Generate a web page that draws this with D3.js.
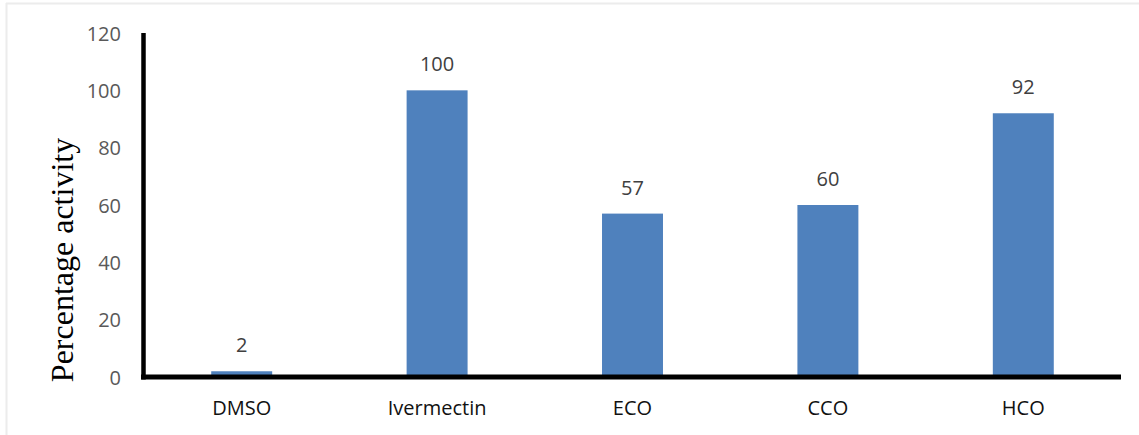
<!DOCTYPE html>
<html>
<head>
<meta charset="utf-8">
<script src="https://cdn.jsdelivr.net/npm/d3@7"></script>
<style>
  html, body { margin: 0; padding: 0; background: #fff; }
  svg { display: block; }
</style>
</head>
<body>
<svg id="chart" width="1139" height="435"></svg>
<script>
// Anthelmintic activity of each treatment (%)
const categories = ["DMSO", "Ivermectin", "ECO", "CCO", "HCO"];
const values = [2, 100, 57, 60, 92];
const yTicks = [0, 20, 40, 60, 80, 100, 120];
const yTitle = "Percentage activity";

const svg = d3.select("#chart");
const W = 1139, H = 435;

// faint frame on the top and left edges
svg.append("line").attr("x1", 6).attr("x2", W).attr("y1", 3.5).attr("y2", 3.5)
  .attr("stroke", "#ececec").attr("stroke-width", 2);
svg.append("line").attr("x1", 6.5).attr("x2", 6.5).attr("y1", 3).attr("y2", H)
  .attr("stroke", "#ececec").attr("stroke-width", 2);

const x = d3.scaleBand()
  .domain(categories)
  .range([144, 1121])
  .paddingInner(0.688)
  .paddingOuter(0.344);

const y = d3.scaleLinear()
  .domain([0, 120])
  .range([377, 33]);

// bars
svg.append("g")
  .selectAll("rect")
  .data(values)
  .join("rect")
  .attr("x", (d, i) => x(categories[i]))
  .attr("width", x.bandwidth())
  .attr("y", d => y(d))
  .attr("height", d => y(0) - y(d))
  .attr("fill", "#4F81BD");

// value labels above the bars
svg.append("g")
  .selectAll("text")
  .data(values)
  .join("text")
  .attr("x", (d, i) => x(categories[i]) + x.bandwidth() / 2)
  .attr("y", d => y(d) - 19)
  .attr("text-anchor", "middle")
  .attr("font-family", "'Open Sans', sans-serif")
  .attr("font-size", 20)
  .attr("fill", "#404040")
  .text(d => d);

// y axis: labels only, with a heavy spine
const yAxis = d3.axisLeft(y).tickValues(yTicks).tickSize(0).tickPadding(0);
const gy = svg.append("g").attr("transform", "translate(121,0)").call(yAxis);
gy.select(".domain").remove();
gy.selectAll("text")
  .attr("font-family", "'Open Sans', sans-serif")
  .attr("font-size", 20)
  .attr("fill", "#595959")
  .attr("dy", "0.35em");

svg.append("line")
  .attr("x1", 143.5).attr("x2", 143.5)
  .attr("y1", y(120)).attr("y2", y(0) + 2.5)
  .attr("stroke", "#000").attr("stroke-width", 4.5);

// x axis: category labels with a heavy baseline
const xAxis = d3.axisBottom(x).tickSize(0).tickPadding(0);
const gx = svg.append("g").attr("transform", "translate(0,377)").call(xAxis);
gx.select(".domain").remove();
gx.selectAll("text")
  .attr("font-family", "'Open Sans', sans-serif")
  .attr("font-size", 20)
  .attr("fill", "#111")
  .attr("y", 38)
  .attr("dy", 0);

svg.append("line")
  .attr("x1", 141).attr("x2", 1121)
  .attr("y1", y(0)).attr("y2", y(0))
  .attr("stroke", "#000").attr("stroke-width", 5);

// y axis title
svg.append("text")
  .attr("transform", "translate(73,260) rotate(-90)")
  .attr("text-anchor", "middle")
  .attr("font-family", "'Liberation Serif', 'Times New Roman', serif")
  .attr("font-size", 32)
  .attr("fill", "#000")
  .text(yTitle);
</script>
</body>
</html>
